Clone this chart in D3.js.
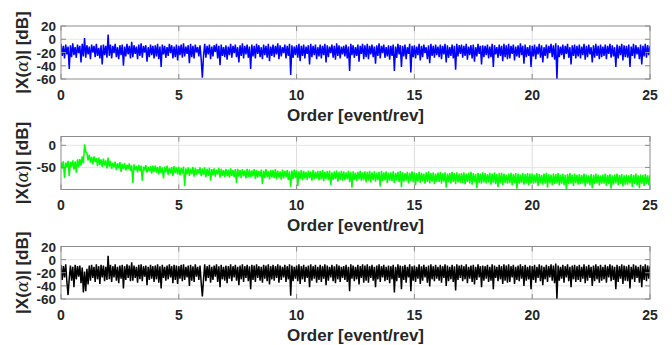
<!DOCTYPE html>
<html>
<head>
<meta charset="utf-8">
<script src="https://cdn.jsdelivr.net/npm/d3@7/dist/d3.min.js"></script>
<style>
  body { margin: 0; background: #fff; }
  svg { display: block; }
  text { font-family: "Liberation Sans", Arial, Helvetica, sans-serif; font-weight: bold; fill: #262626; }
</style>
</head>
<body>
<svg id="chart" width="672" height="345"></svg>
<script>
// Order axis: spectrum sampled every 0.05 event/rev from 0 to 25
const orderStep = 0.05;
const orderTicks = [0, 5, 10, 15, 20, 25];
const xLabel = "Order [event/rev]";

// Top panel: |X(alpha)| in dB (blue)
const blueDb = [
  -7,-25,-10,-29,-8,-23,-11,-45,-9,-27,-6,-24,-12,-28,-8,-21,-10,-35,-7,-26,
  2,-28,-9,-23,-11,-30,-8,-20,-10,-27,-7,-25,-13,-29,-9,-38,-8,-24,-10,-28,
  7,-25,-8,-29,-10,-21,-7,-27,-12,-30,-9,-24,-8,-40,-11,-26,-7,-23,-10,-29,
  -4,-27,-9,-22,-11,-30,-8,-25,-6,-28,-10,-20,-9,-34,-12,-27,-8,-24,-10,-29,
  -9,-26,-7,-30,-11,-42,-8,-23,-10,-28,-12,-25,-7,-21,-9,-29,-11,-27,-8,-32,
  -10,-24,-8,-28,-6,-26,-11,-22,-9,-36,-7,-27,-10,-29,-8,-20,-12,-26,-9,-30,
  -58,-25,-7,-28,-10,-23,-8,-30,-11,-26,-9,-19,-7,-29,-10,-39,-8,-25,-12,-27,
  -9,-31,-11,-24,-7,-28,-10,-21,-8,-27,-12,-35,-9,-25,-6,-29,-10,-23,-8,-28,
  -11,-45,-8,-26,-10,-29,-7,-22,-9,-27,-12,-30,-8,-24,-10,-28,-7,-33,-11,-25,
  -8,-27,-10,-23,-6,-30,-9,-26,-12,-21,-8,-29,-10,-25,-7,-54,-9,-28,-11,-24,
  -9,-28,-7,-33,-10,-25,-8,-29,-11,-22,-9,-38,-7,-27,-10,-24,-8,-30,-12,-26,
  -8,-29,-10,-24,-7,-35,-9,-27,-11,-21,-8,-28,-10,-31,-6,-25,-9,-29,-11,-23,
  -10,-26,-8,-29,-11,-48,-7,-24,-9,-28,-12,-25,-8,-34,-10,-22,-7,-30,-9,-27,
  -7,-30,-10,-23,-8,-27,-11,-37,-9,-25,-6,-29,-10,-21,-8,-28,-12,-26,-9,-31,
  -10,-25,-8,-48,-11,-28,-7,-23,-9,-42,-10,-26,-8,-30,-12,-22,-7,-50,-10,-27,
  -9,-29,-11,-24,-7,-32,-10,-27,-8,-21,-12,-30,-9,-36,-7,-25,-10,-28,-8,-24,
  -11,-27,-8,-30,-10,-23,-7,-35,-9,-28,-12,-25,-8,-29,-10,-46,-7,-26,-9,-22,
  -8,-28,-10,-25,-7,-31,-11,-24,-9,-29,-8,-34,-12,-26,-7,-22,-10,-38,-9,-27,
  -10,-24,-8,-29,-11,-27,-7,-42,-9,-23,-12,-28,-8,-25,-10,-33,-7,-27,-9,-30,
  -7,-29,-10,-22,-8,-32,-11,-26,-9,-28,-6,-24,-10,-37,-8,-27,-12,-25,-9,-42,
  -10,-26,-8,-30,-11,-23,-7,-28,-9,-35,-12,-25,-8,-29,-10,-21,-7,-27,-9,-31,
  -6,-60,-9,-27,-11,-24,-8,-30,-10,-22,-7,-28,-12,-38,-9,-25,-8,-29,-10,-26,
  -8,-29,-11,-24,-7,-31,-10,-27,-8,-23,-12,-35,-9,-28,-7,-25,-10,-30,-8,-27,
  -11,-25,-8,-30,-10,-22,-7,-28,-9,-26,-12,-42,-8,-29,-10,-24,-7,-32,-9,-27,
  -10,-28,-8,-42,-11,-25,-7,-29,-9,-23,-12,-30,-8,-38,-10,-26,-7,-28,-9,-24,
  -10
];

// Middle panel: |X(alpha)| in dB (green)
const greenDb = [
  -38,-53,-36,-74,-39,-50,-35,-70,-37,-48,-34,-55,-36,-62,-32,-50,-31,-46,-25,-41,
  2,-15,-17,-34,-21,-39,-26,-43,-25,-38,-29,-47,-28,-44,-32,-49,-30,-46,-34,-52,
  -28,-48,-35,-53,-39,-50,-37,-56,-41,-52,-38,-60,-42,-54,-40,-57,-44,-53,-41,-58,
  -45,-85,-43,-56,-47,-61,-44,-58,-46,-80,-48,-57,-45,-62,-49,-59,-47,-64,-46,-60,
  -46,-62,-49,-66,-47,-63,-50,-75,-48,-61,-46,-67,-51,-64,-49,-70,-47,-63,-50,-66,
  -49,-68,-51,-64,-48,-92,-52,-66,-50,-69,-53,-65,-49,-71,-51,-67,-54,-64,-50,-70,
  -52,-67,-50,-72,-53,-69,-51,-80,-54,-68,-52,-71,-55,-66,-51,-73,-53,-69,-56,-72,
  -53,-70,-55,-73,-52,-69,-56,-72,-54,-85,-53,-71,-56,-74,-54,-70,-57,-75,-53,-72,
  -55,-72,-57,-70,-54,-76,-56,-73,-58,-71,-55,-88,-57,-74,-54,-72,-58,-77,-56,-73,
  -56,-74,-54,-77,-57,-73,-59,-78,-55,-75,-58,-72,-56,-79,-59,-94,-57,-76,-55,-74,
  -57,-92,-59,-76,-56,-79,-58,-75,-60,-78,-57,-74,-59,-80,-56,-77,-60,-75,-58,-79,
  -58,-77,-56,-81,-60,-76,-58,-79,-57,-90,-61,-78,-59,-76,-57,-82,-60,-78,-58,-80,
  -59,-79,-61,-77,-58,-83,-60,-96,-59,-78,-62,-81,-60,-77,-58,-80,-61,-79,-59,-84,
  -60,-80,-58,-84,-61,-79,-59,-82,-62,-78,-60,-93,-58,-81,-61,-79,-59,-85,-62,-80,
  -61,-81,-59,-85,-62,-80,-60,-83,-58,-95,-61,-82,-63,-80,-60,-86,-62,-81,-59,-84,
  -61,-90,-63,-82,-60,-85,-62,-81,-64,-87,-61,-83,-59,-86,-63,-82,-61,-88,-64,-83,
  -62,-83,-60,-87,-63,-82,-61,-96,-64,-84,-62,-86,-60,-83,-63,-88,-61,-84,-64,-85,
  -63,-85,-61,-88,-64,-83,-62,-86,-60,-89,-63,-84,-65,-97,-62,-85,-64,-87,-61,-84,
  -63,-86,-65,-84,-62,-89,-64,-85,-61,-88,-65,-95,-63,-86,-62,-90,-64,-85,-66,-87,
  -64,-85,-62,-90,-65,-86,-63,-98,-64,-87,-66,-85,-62,-89,-65,-86,-63,-91,-64,-87,
  -64,-87,-66,-85,-63,-92,-65,-86,-67,-89,-64,-87,-62,-96,-65,-86,-66,-90,-64,-88,
  -65,-86,-63,-91,-66,-87,-64,-90,-67,-99,-65,-88,-63,-87,-66,-92,-64,-86,-67,-89,
  -65,-88,-67,-86,-64,-93,-66,-87,-68,-90,-65,-97,-67,-88,-64,-86,-66,-91,-68,-87,
  -66,-87,-64,-92,-67,-88,-65,-98,-68,-89,-66,-86,-64,-90,-67,-88,-65,-93,-68,-89,
  -66,-89,-68,-86,-65,-94,-67,-88,-64,-91,-68,-97,-66,-87,-67,-92,-65,-88,-68,-90,
  -68
];

// Bottom panel: |X(alpha)| in dB (black)
const blackDb = [
  -8,-31,-10,-27,-7,-34,-54,-29,-9,-32,-11,-42,-8,-30,-10,-26,-9,-36,-12,-50,
  -18,-48,-14,-38,-9,-32,-8,-28,-11,-34,-7,-30,-10,-37,-8,-27,-9,-33,-11,-31,
  6,-30,-8,-34,-10,-27,-7,-32,-11,-36,-9,-29,-8,-44,-10,-31,-7,-28,-9,-33,
  -4,-32,-9,-28,-11,-35,-8,-30,-7,-33,-10,-26,-9,-39,-11,-31,-8,-29,-10,-34,
  -9,-30,-7,-35,-10,-44,-8,-28,-11,-32,-9,-30,-7,-27,-10,-36,-8,-31,-9,-37,
  -10,-29,-8,-33,-7,-31,-11,-27,-9,-40,-8,-32,-10,-34,-7,-26,-11,-31,-9,-35,
  -56,-30,-7,-33,-10,-28,-8,-35,-11,-31,-9,-26,-7,-34,-10,-42,-8,-30,-11,-32,
  -9,-36,-10,-29,-7,-33,-10,-27,-8,-32,-11,-39,-9,-30,-7,-34,-10,-28,-8,-33,
  -10,-45,-8,-31,-9,-34,-7,-28,-10,-32,-11,-35,-8,-29,-9,-33,-7,-38,-10,-30,
  -8,-32,-10,-28,-7,-35,-9,-31,-11,-27,-8,-34,-10,-30,-7,-55,-9,-33,-11,-29,
  -9,-33,-7,-37,-10,-30,-8,-34,-11,-28,-9,-42,-7,-32,-10,-29,-8,-35,-11,-31,
  -8,-34,-10,-29,-7,-39,-9,-32,-11,-27,-8,-33,-10,-36,-7,-30,-9,-34,-11,-28,
  -10,-31,-8,-34,-11,-48,-7,-29,-9,-33,-11,-30,-8,-38,-10,-28,-7,-35,-9,-32,
  -7,-35,-10,-28,-8,-32,-11,-42,-9,-30,-7,-34,-10,-27,-8,-33,-11,-31,-9,-36,
  -10,-30,-8,-50,-11,-33,-7,-28,-9,-45,-10,-31,-8,-35,-11,-27,-7,-48,-10,-32,
  -9,-34,-11,-29,-7,-37,-10,-32,-8,-27,-11,-35,-9,-41,-7,-30,-10,-33,-8,-29,
  -11,-32,-8,-35,-10,-28,-7,-40,-9,-33,-11,-30,-8,-34,-10,-47,-7,-31,-9,-28,
  -8,-33,-10,-30,-7,-36,-11,-29,-9,-34,-8,-38,-11,-31,-7,-27,-10,-42,-9,-32,
  -10,-29,-8,-34,-11,-32,-7,-45,-9,-28,-11,-33,-8,-30,-10,-37,-7,-32,-9,-35,
  -7,-34,-10,-27,-8,-37,-11,-31,-9,-33,-7,-29,-10,-40,-8,-32,-11,-30,-9,-45,
  -10,-31,-8,-35,-11,-28,-7,-33,-9,-39,-11,-30,-8,-34,-10,-27,-7,-32,-9,-36,
  -6,-60,-9,-32,-11,-29,-8,-35,-10,-27,-7,-33,-11,-42,-9,-30,-8,-34,-10,-31,
  -8,-34,-11,-29,-7,-36,-10,-32,-8,-28,-11,-40,-9,-33,-7,-30,-10,-35,-8,-32,
  -11,-30,-8,-35,-10,-27,-7,-33,-9,-31,-11,-45,-8,-34,-10,-29,-7,-37,-9,-32,
  -10,-33,-8,-44,-11,-30,-7,-34,-9,-28,-11,-35,-8,-42,-10,-31,-7,-33,-9,-29,
  -10
];

// Y ticks for each panel
const dbTicksWide = [20, 0, -20, -40, -60];
const dbTicksMid = [0, -50];

const svg = d3.select("#chart");
const left = 61, right = 650;

const panels = [
  { values: blueDb,  color: "#0000ff", domain: [-60, 20],  ticks: dbTicksWide, top: 26,    bottom: 79 },
  { values: greenDb, color: "#00ff00", domain: [-100, 20], ticks: dbTicksMid,  top: 136.5, bottom: 189.5 },
  { values: blackDb, color: "#000000", domain: [-60, 20],  ticks: dbTicksWide, top: 246.5, bottom: 299 }
];

const x = d3.scaleLinear().domain([0, 25]).range([left, right]);

panels.forEach((p, k) => {
  const y = d3.scaleLinear().domain(p.domain).range([p.bottom, p.top]);
  const g = svg.append("g");

  // grid
  g.append("g").selectAll("line").data(orderTicks.slice(1, -1)).join("line")
    .attr("x1", d => x(d)).attr("x2", d => x(d))
    .attr("y1", p.top).attr("y2", p.bottom)
    .attr("stroke", "#dcdcdc").attr("stroke-width", 1);
  g.append("g").selectAll("line").data(p.ticks.filter(t => t > p.domain[0] && t < p.domain[1])).join("line")
    .attr("x1", left).attr("x2", right)
    .attr("y1", d => y(d)).attr("y2", d => y(d))
    .attr("stroke", "#e6e6e6").attr("stroke-width", 1);

  // clip to the axes area
  const clipId = "clip" + k;
  svg.append("clipPath").attr("id", clipId).append("rect")
    .attr("x", left).attr("y", p.top).attr("width", right - left).attr("height", p.bottom - p.top);

  // spectrum line
  const line = d3.line().x((d, i) => x(i * orderStep)).y(d => y(d));
  g.append("path").datum(p.values)
    .attr("clip-path", `url(#${clipId})`)
    .attr("fill", "none").attr("stroke", p.color).attr("stroke-width", 1.5)
    .attr("stroke-linejoin", "bevel")
    .attr("d", line);

  // axes box
  g.append("rect").attr("x", left).attr("y", p.top)
    .attr("width", right - left).attr("height", p.bottom - p.top)
    .attr("fill", "none").attr("stroke", "#8c8c8c").attr("stroke-width", 1);

  // tick marks (inside)
  const tl = 5;
  g.append("g").selectAll("line").data(orderTicks).join("line")
    .attr("x1", d => x(d)).attr("x2", d => x(d))
    .attr("y1", p.bottom).attr("y2", p.bottom - tl)
    .attr("stroke", "#8c8c8c");
  g.append("g").selectAll("line").data(orderTicks).join("line")
    .attr("x1", d => x(d)).attr("x2", d => x(d))
    .attr("y1", p.top).attr("y2", p.top + tl)
    .attr("stroke", "#8c8c8c");
  g.append("g").selectAll("line").data(p.ticks).join("line")
    .attr("x1", left).attr("x2", left + tl)
    .attr("y1", d => y(d)).attr("y2", d => y(d))
    .attr("stroke", "#8c8c8c");
  g.append("g").selectAll("line").data(p.ticks).join("line")
    .attr("x1", right).attr("x2", right - tl)
    .attr("y1", d => y(d)).attr("y2", d => y(d))
    .attr("stroke", "#8c8c8c");

  // x tick labels
  g.append("g").selectAll("text").data(orderTicks).join("text")
    .attr("x", d => x(d)).attr("y", p.bottom + 20.5)
    .attr("text-anchor", "middle").attr("font-size", 14)
    .text(d => d);

  // y tick labels
  g.append("g").selectAll("text").data(p.ticks).join("text")
    .attr("x", left - 5).attr("y", d => y(d) + 5)
    .attr("text-anchor", "end").attr("font-size", 13.5)
    .text(d => d);

  // x axis title
  g.append("text").attr("x", (left + right) / 2).attr("y", p.bottom + 41.5)
    .attr("text-anchor", "middle").attr("font-size", 17)
    .text(xLabel);

  // y axis title: |X(α)| [dB]
  const cy = (p.top + p.bottom) / 2;
  const yt = g.append("text")
    .attr("transform", `translate(28,${cy}) rotate(-90)`)
    .attr("text-anchor", "middle").attr("font-size", 17);
  yt.append("tspan").text("|X(");
  yt.append("tspan").attr("font-family", "'DejaVu Serif', 'Liberation Serif', serif")
    .attr("font-style", "italic").attr("font-weight", "normal").text("α");
  yt.append("tspan").text(")| [dB]");
});
</script>
</body>
</html>
